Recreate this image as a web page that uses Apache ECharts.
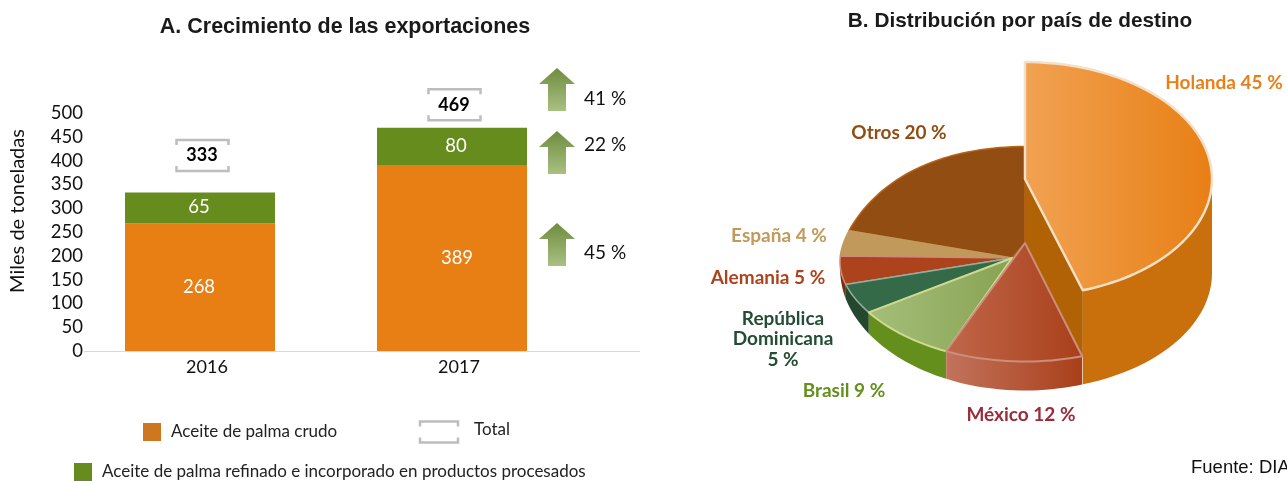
<!DOCTYPE html>
<html><head><meta charset="utf-8">
<style>html,body{margin:0;padding:0;background:#fff}#c{width:1287px;height:481px}</style>
<script src="https://cdn.jsdelivr.net/npm/echarts@6/dist/echarts.min.js"></script>
</head><body><div id="c"></div>
<script>
// ---- data ----
const years = ['2016', '2017'];
const crudo = [268, 389];
const refinado = [65, 80];
const totals = [333, 469];
const yTicks = [0, 50, 100, 150, 200, 250, 300, 350, 400, 450, 500];
const growthLabels = ['41 %', '22 %', '45 %'];
const countries = ['Holanda', 'México', 'Brasil', 'República Dominicana', 'Alemania', 'España', 'Otros'];
const shares = [45, 12, 9, 5, 5, 4, 20];

// ---- layout and style ----
const FONT = 'Lato, "Noto Sans", sans-serif';
const ARIAL = '"Liberation Sans", Arial, sans-serif';
const ORANGE = '#E87F14', GREEN = '#658C1C';
const grey = '#BDBDBD';

const pieLabels = [
  {lines:['Holanda 45 %'], x:1224, y:83, c:'#E8801A'},
  {lines:['México 12 %'], x:1021, y:415, c:'#9C2B3A'},
  {lines:['Brasil 9 %'], x:844, y:391, c:'#648F1C'},
  {lines:['República','Dominicana','5 %'], x:783, y:339, c:'#254D35'},
  {lines:['Alemania 5 %'], x:768, y:278, c:'#AD431D'},
  {lines:['España 4 %'], x:779, y:236, c:'#C19A5B'},
  {lines:['Otros 20 %'], x:899, y:133, c:'#924E12'}
];
const hGrad = (a, b) => ({type:'linear', x:0, y:0, x2:1, y2:0, colorStops:[{offset:0,color:a},{offset:1,color:b}]});
const pieStyle = [
  {top:hGrad('#F1A252','#E87F14'), stroke:'#F3E0C8', wall:'#C96F0C', order:6},
  {top:hGrad('#C0674A','#A93F1A'), stroke:'#CB8E7C', wall:hGrad('#C2735C','#A93F1A'), order:7},
  {top:hGrad('#A5BF7A','#88A253'), stroke:'#CFDA90', wall:'#648F1C', order:5},
  {top:'#356A48', stroke:'#8FB0A0', wall:'#23482E', order:4},
  {top:'#AD431D', stroke:'#CC8C7C', wall:'#7A2E12', order:3},
  {top:'#C19A5B', stroke:'#C19A5B', wall:'#8A6D3E', order:2},
  {top:'#924E12', stroke:'#B86418', wall:'#6E3A0C', order:1}
];
const P = {cx:1025, cy:254, rx:185, ry:107.5, apexTop:243, apexX:1012, apexY:258, wall:29, sag:10};
const H = {cx:1025, cy:179, rx:187, ry:117, wall:94};

function rimPoint(deg) {
  const t = deg * Math.PI / 180;
  const bump = P.sag * Math.exp(-Math.pow((deg - 285) / 30, 2));
  return [P.cx + P.rx * Math.sin(t), P.cy - P.ry * Math.cos(t) + bump];
}
function wallH(deg) {
  const c = -Math.cos(deg * Math.PI / 180);
  return P.wall * Math.sqrt(Math.max(0, c));
}
function holPoint(deg, dy) {
  const t = deg * Math.PI / 180;
  return [H.cx + H.rx * Math.sin(t), H.cy - H.ry * Math.cos(t) + (dy || 0)];
}
function arc(fn, a, b, extra) {
  const out = [], n = Math.max(4, Math.ceil(Math.abs(b - a) / 2));
  for (let i = 0; i <= n; i++) out.push(fn(a + (b - a) * i / n, extra));
  return out;
}

function renderPie(params, api) {
  const i = params.dataIndex;
  const total = shares.reduce((s, v) => s + v, 0);
  let before = 0;
  for (let k = 0; k < i; k++) before += shares[k];
  const a0 = before / total * 360;
  const a1 = (before + api.value(0)) / total * 360;
  const st = pieStyle[i], z = st.order * 10;
  const children = [];
  if (i === 0) {
    const end = holPoint(a1), endLow = rimPoint(a1);
    children.push({type:'polygon', z2:z, shape:{points:[[H.cx, H.cy], end, [end[0], endLow[1]], [H.cx, P.apexTop]]},
      style:{fill:'#B06205'}});
    const top = arc(holPoint, 90, a1, 0), bot = arc(holPoint, 90, a1, H.wall).reverse();
    children.push({type:'polygon', z2:z + 1, shape:{points:top.concat(bot)}, style:{fill:st.wall}});
    children.push({type:'polygon', z2:z + 2, shape:{points:[[H.cx, H.cy]].concat(arc(holPoint, a0, a1, 0))},
      style:{fill:st.top, stroke:st.stroke, lineWidth:2.5, lineJoin:'round'}});
  } else {
    if (a0 < 273) {
      const aEnd = Math.min(a1, 273);
      const top = arc(rimPoint, a0, aEnd);
      const bot = arc(d => { const p = rimPoint(d); return [p[0], p[1] + wallH(d)]; }, a0, aEnd).reverse();
      children.push({type:'polygon', z2:z, shape:{points:top.concat(bot)}, style:{fill:st.wall}});
    }
    const rim = arc(rimPoint, a0, a1);
    const apex = i === 1 ? [[P.cx, P.apexTop]]
      : i === 6 ? [[P.cx, P.apexTop], [P.apexX, P.apexY]]
      : [[P.apexX, P.apexY]];
    children.push({type:'polygon', z2:z + 1, shape:{points:rim.concat(apex)},
      style:{fill:st.top, stroke:st.stroke, lineWidth:i === 1 || i === 2 ? 2 : 1.5, lineJoin:'round'}});
  }
  const lab = pieLabels[i];
  lab.lines.forEach((t, k) => {
    children.push({type:'text', z2:100, style:{text:t, x:lab.x, y:lab.y + (k - (lab.lines.length - 1) / 2) * 20.5,
      fill:lab.c, font:'bold 19px ' + FONT, textAlign:'center', textVerticalAlign:'middle'}});
  });
  return {type:'group', children};
}

const totalLift = [37, 23];
function bracket(cx, cy, w, h) {
  const l = cx - w / 2, r = cx + w / 2, t = cy - h / 2, b = cy + h / 2, s = 5;
  const mk = pts => ({type:'polyline', shape:{points:pts}, style:{stroke:grey, lineWidth:2.5, fill:null}});
  return [mk([[l, t + s], [l, t], [r, t], [r, t + s]]), mk([[l, b - s], [l, b], [r, b], [r, b - s]])];
}
function renderTotal(params, api) {
  const i = params.dataIndex;
  const p = api.coord([i, api.value(1)]);
  const cx = p[0] + 2, cy = p[1] - totalLift[i];
  return {type:'group', children: bracket(cx + 0.5, cy, 52, 31).concat([
    {type:'text', style:{text:String(api.value(1)), x:cx, y:cy, fill:'#000', font:'bold 18px ' + FONT,
      textAlign:'center', textVerticalAlign:'middle'}}])};
}

const arrowTops = [68, 131, 223], arrowTextY = [99, 145, 253];
const arrowCx = 557;
const gfx = [];
gfx.push({type:'line', z:1, shape:{x1:84, y1:351.5, x2:640, y2:351.5}, style:{stroke:'#D9D9D9', lineWidth:1}});
gfx.push({type:'text', x:18, y:211, rotation:Math.PI / 2, style:{text:'Miles de toneladas', fill:'#111',
  font:'20px ' + FONT, textAlign:'center', textVerticalAlign:'middle'}});
arrowTops.forEach((t, i) => {
  gfx.push({type:'polygon', shape:{points:[[arrowCx, t], [arrowCx + 18, t + 16], [arrowCx + 9, t + 16], [arrowCx + 9, t + 43],
    [arrowCx - 9, t + 43], [arrowCx - 9, t + 16], [arrowCx - 18, t + 16]]},
    style:{fill:{type:'linear', x:0, y:0, x2:0, y2:1, colorStops:[{offset:0,color:'#6F8C3E'},{offset:1,color:'#A9C082'}]}}});
  gfx.push({type:'text', style:{text:growthLabels[i], x:584, y:arrowTextY[i], fill:'#111', font:'19px ' + FONT, textVerticalAlign:'middle'}});
});
bracket(439, 432, 38, 21).forEach(e => gfx.push(e));
gfx.push({type:'text', style:{text:'Total', x:474, y:430, fill:'#222', font:'17px ' + FONT, textVerticalAlign:'middle'}});
gfx.push({type:'text', style:{text:'Fuente: DIA', x:1191, y:468, fill:'#111', font:'18.5px ' + ARIAL, textVerticalAlign:'middle'}});

const crudoOffset = [-1, 5], refinadoOffset = [-1, 4];
const chart = echarts.init(document.getElementById('c'), null, {renderer:'canvas'});
chart.setOption({
  animation:false,
  backgroundColor:'#fff',
  title:[
    {text:'A. Crecimiento de las exportaciones', left:340, top:11, textAlign:'center',
      textStyle:{fontFamily:ARIAL, fontWeight:'bold', fontSize:21.5, color:'#1a1a1a'}},
    {text:'B. Distribución por país de destino', left:1015, top:6, textAlign:'center',
      textStyle:{fontFamily:ARIAL, fontWeight:'bold', fontSize:20.8, color:'#1a1a1a'}}
  ],
  legend:[
    {data:['Aceite de palma crudo'], left:143, top:423, padding:0, itemWidth:18, itemHeight:18, icon:'rect', selectedMode:false,
      itemStyle:{color:'#CD7820'}, textStyle:{fontFamily:FONT, fontSize:17, color:'#222', padding:[0,0,0,5]}},
    {data:['Aceite de palma refinado e incorporado en productos procesados'], left:74, top:463, padding:0, itemWidth:18, itemHeight:18, icon:'rect', selectedMode:false,
      textStyle:{fontFamily:FONT, fontSize:17, color:'#222', padding:[0,0,0,5]}}
  ],
  grid:{left:74, top:113, width:504, height:238},
  xAxis:{type:'category', data:years, axisLine:{show:false}, axisTick:{show:false},
    axisLabel:{fontFamily:FONT, fontSize:18, color:'#111', margin:7, padding:[0,0,0,14]}},
  yAxis:{type:'value', min:yTicks[0], max:yTicks[yTicks.length - 1], interval:yTicks[1] - yTicks[0], splitLine:{show:false},
    axisLine:{show:false}, axisTick:{show:false},
    axisLabel:{fontFamily:FONT, fontSize:18.5, color:'#111', margin:-9, padding:[0,0,6,0]}},
  graphic:gfx,
  series:[
    {name:'Aceite de palma crudo', type:'bar', stack:'a', barWidth:150, itemStyle:{color:ORANGE},
      data:crudo.map((v, i) => ({value:v, label:{offset:[crudoOffset[i], 0]}})),
      label:{show:true, position:'inside', color:'#fff', fontFamily:FONT, fontSize:18.5}},
    {name:'Aceite de palma refinado e incorporado en productos procesados', type:'bar', stack:'a', barWidth:150, itemStyle:{color:GREEN},
      data:refinado.map((v, i) => ({value:v, label:{offset:[refinadoOffset[i], -1]}})),
      label:{show:true, position:'inside', color:'#fff', fontFamily:FONT, fontSize:18.5}},
    {name:'Total', type:'custom', coordinateSystem:'cartesian2d', encode:{x:0, y:1},
      data:totals.map((v, i) => [i, v]), renderItem:renderTotal, z:5},
    {name:'Destino', type:'custom', coordinateSystem:'none',
      data:countries.map((n, i) => ({name:n, value:[shares[i]]})), renderItem:renderPie, z:3}
  ]
});
</script></body></html>
